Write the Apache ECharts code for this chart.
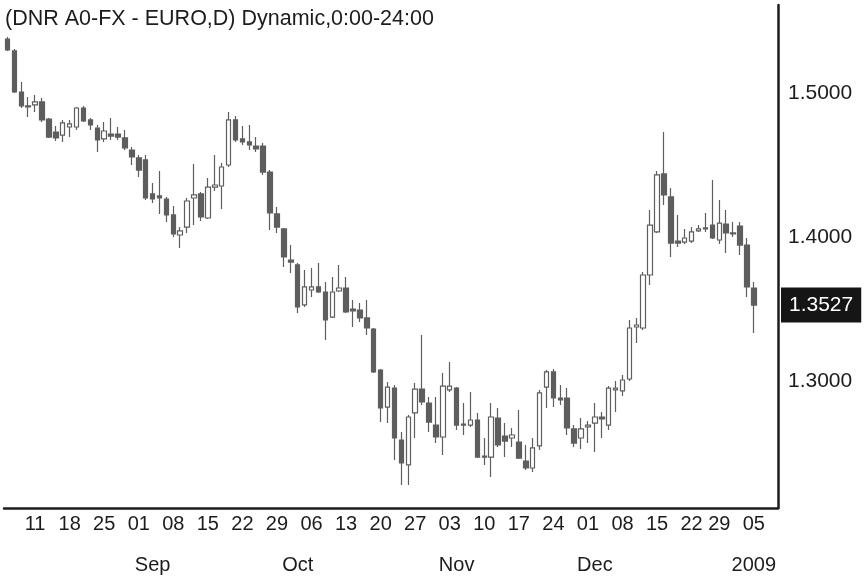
<!DOCTYPE html>
<html>
<head>
<meta charset="utf-8">
<title>DNR A0-FX - EURO, D</title>
<script src="https://cdn.jsdelivr.net/npm/echarts@6/dist/echarts.min.js"></script>
<style>
  html, body { margin: 0; padding: 0; background: #fff; }
  #chart { width: 867px; height: 580px; }
</style>
</head>
<body>
<div id="chart"></div>
<script>
// trading days shown on the chart (Dec 25 has no bar)
var tradingDays = [
  '2008-08-05', '2008-08-06', '2008-08-07', '2008-08-08',
  '2008-08-11', '2008-08-12', '2008-08-13', '2008-08-14', '2008-08-15',
  '2008-08-18', '2008-08-19', '2008-08-20', '2008-08-21', '2008-08-22',
  '2008-08-25', '2008-08-26', '2008-08-27', '2008-08-28', '2008-08-29',
  '2008-09-01', '2008-09-02', '2008-09-03', '2008-09-04', '2008-09-05',
  '2008-09-08', '2008-09-09', '2008-09-10', '2008-09-11', '2008-09-12',
  '2008-09-15', '2008-09-16', '2008-09-17', '2008-09-18', '2008-09-19',
  '2008-09-22', '2008-09-23', '2008-09-24', '2008-09-25', '2008-09-26',
  '2008-09-29', '2008-09-30', '2008-10-01', '2008-10-02', '2008-10-03',
  '2008-10-06', '2008-10-07', '2008-10-08', '2008-10-09', '2008-10-10',
  '2008-10-13', '2008-10-14', '2008-10-15', '2008-10-16', '2008-10-17',
  '2008-10-20', '2008-10-21', '2008-10-22', '2008-10-23', '2008-10-24',
  '2008-10-27', '2008-10-28', '2008-10-29', '2008-10-30', '2008-10-31',
  '2008-11-03', '2008-11-04', '2008-11-05', '2008-11-06', '2008-11-07',
  '2008-11-10', '2008-11-11', '2008-11-12', '2008-11-13', '2008-11-14',
  '2008-11-17', '2008-11-18', '2008-11-19', '2008-11-20', '2008-11-21',
  '2008-11-24', '2008-11-25', '2008-11-26', '2008-11-27', '2008-11-28',
  '2008-12-01', '2008-12-02', '2008-12-03', '2008-12-04', '2008-12-05',
  '2008-12-08', '2008-12-09', '2008-12-10', '2008-12-11', '2008-12-12',
  '2008-12-15', '2008-12-16', '2008-12-17', '2008-12-18', '2008-12-19',
  '2008-12-22', '2008-12-23', '2008-12-24', '2008-12-26',
  '2008-12-29', '2008-12-30', '2008-12-31', '2009-01-01', '2009-01-02',
  '2009-01-05'
];
// empty slots to the right of the last bar
var emptyDays = ['2009-01-06', '2009-01-07', '2009-01-08'];

var openPrices = [
  1.5375, 1.5292, 1.5007, 1.4910, 1.4917, 1.4938, 1.4819, 1.4729, 1.4708, 1.4764,
  1.4764, 1.4896, 1.4813, 1.4757, 1.4681, 1.4715, 1.4715, 1.4688, 1.4604, 1.4549,
  1.4535, 1.4299, 1.4285, 1.4264, 1.4153, 1.4014, 1.4069, 1.4271, 1.4299, 1.4132,
  1.4347, 1.4354, 1.4500, 1.4813, 1.4681, 1.4660, 1.4632, 1.4632, 1.4451, 1.4160,
  1.4056, 1.3840, 1.3806, 1.3528, 1.3632, 1.3653, 1.3618, 1.3444, 1.3625, 1.3646,
  1.3500, 1.3493, 1.3438, 1.3361, 1.3076, 1.2819, 1.2951, 1.2590, 1.2417, 1.2778,
  1.2944, 1.2847, 1.2694, 1.2611, 1.2938, 1.2951, 1.2701, 1.2694, 1.2729, 1.2479,
  1.2472, 1.2743, 1.2618, 1.2604, 1.2576, 1.2444, 1.2396, 1.2549, 1.2958, 1.3063,
  1.2882, 1.2882, 1.2667, 1.2604, 1.2681, 1.2708, 1.2750, 1.2694, 1.2938, 1.2931,
  1.3014, 1.3375, 1.3368, 1.3736, 1.4035, 1.4438, 1.4278, 1.3972, 1.3965, 1.3972,
  1.4042, 1.4056, 1.4083, 1.3979, 1.4090, 1.4028, 1.4076, 1.3944, 1.3646
];
var highPrices = [
  1.5389, 1.5306, 1.5076, 1.4972, 1.4986, 1.4965, 1.4826, 1.4771, 1.4813, 1.4813,
  1.4903, 1.4910, 1.4826, 1.4778, 1.4799, 1.4826, 1.4764, 1.4743, 1.4625, 1.4569,
  1.4569, 1.4375, 1.4458, 1.4278, 1.4215, 1.4069, 1.4271, 1.4507, 1.4313, 1.4410,
  1.4569, 1.4514, 1.4868, 1.4840, 1.4771, 1.4778, 1.4694, 1.4653, 1.4465, 1.4208,
  1.4063, 1.3944, 1.3819, 1.3771, 1.3785, 1.3819, 1.3688, 1.3722, 1.3806, 1.3722,
  1.3563, 1.3542, 1.3563, 1.3368, 1.3083, 1.2993, 1.2972, 1.2646, 1.2764, 1.2986,
  1.3319, 1.2889, 1.2889, 1.3056, 1.3132, 1.2958, 1.2847, 1.2924, 1.2778, 1.2604,
  1.2847, 1.2813, 1.2708, 1.2674, 1.2799, 1.2556, 1.2604, 1.2938, 1.3076, 1.3083,
  1.2972, 1.2951, 1.2694, 1.2743, 1.2722, 1.2847, 1.2785, 1.2965, 1.3000, 1.3042,
  1.3424, 1.3438, 1.3757, 1.4188, 1.4458, 1.4729, 1.4340, 1.4153, 1.4056, 1.4069,
  1.4083, 1.4167, 1.4396, 1.4257, 1.4188, 1.4104, 1.4104, 1.3993, 1.3688
];
var lowPrices = [
  1.5292, 1.5000, 1.4896, 1.4833, 1.4868, 1.4799, 1.4688, 1.4667, 1.4660, 1.4694,
  1.4743, 1.4799, 1.4743, 1.4590, 1.4660, 1.4674, 1.4674, 1.4604, 1.4500, 1.4417,
  1.4257, 1.4236, 1.4160, 1.4104, 1.4000, 1.3924, 1.4028, 1.4083, 1.4111, 1.4125,
  1.4319, 1.4194, 1.4486, 1.4660, 1.4639, 1.4604, 1.4590, 1.4431, 1.4049, 1.4028,
  1.3792, 1.3750, 1.3472, 1.3514, 1.3583, 1.3611, 1.3285, 1.3438, 1.3618, 1.3472,
  1.3375, 1.3410, 1.3319, 1.3056, 1.2715, 1.2708, 1.2451, 1.2278, 1.2278, 1.2604,
  1.2833, 1.2646, 1.2569, 1.2486, 1.2924, 1.2660, 1.2625, 1.2681, 1.2465, 1.2417,
  1.2333, 1.2542, 1.2472, 1.2542, 1.2458, 1.2382, 1.2368, 1.2521, 1.2813, 1.2819,
  1.2833, 1.2625, 1.2542, 1.2528, 1.2569, 1.2507, 1.2604, 1.2660, 1.2785, 1.2896,
  1.3000, 1.3264, 1.3354, 1.3667, 1.4028, 1.4222, 1.3861, 1.3931, 1.3951, 1.3958,
  1.4035, 1.4035, 1.3986, 1.3951, 1.3889, 1.4000, 1.3875, 1.3583, 1.3333
];
var closePrices = [
  1.5299, 1.5007, 1.4910, 1.4903, 1.4938, 1.4813, 1.4694, 1.4688, 1.4792, 1.4785,
  1.4896, 1.4806, 1.4778, 1.4674, 1.4736, 1.4701, 1.4694, 1.4618, 1.4556, 1.4465,
  1.4271, 1.4264, 1.4271, 1.4153, 1.4021, 1.4042, 1.4250, 1.4292, 1.4139, 1.4347,
  1.4361, 1.4486, 1.4813, 1.4674, 1.4660, 1.4639, 1.4611, 1.4451, 1.4167, 1.4069,
  1.3861, 1.3826, 1.3514, 1.3653, 1.3653, 1.3618, 1.3424, 1.3618, 1.3646, 1.3479,
  1.3486, 1.3438, 1.3368, 1.3063, 1.2813, 1.2958, 1.2604, 1.2431, 1.2750, 1.2944,
  1.2854, 1.2715, 1.2611, 1.2965, 1.2965, 1.2694, 1.2694, 1.2729, 1.2472, 1.2472,
  1.2750, 1.2556, 1.2583, 1.2625, 1.2465, 1.2396, 1.2535, 1.2917, 1.3063, 1.2882,
  1.2868, 1.2674, 1.2569, 1.2667, 1.2694, 1.2750, 1.2736, 1.2951, 1.2951, 1.3007,
  1.3368, 1.3389, 1.3736, 1.4083, 1.4431, 1.4292, 1.3958, 1.3958, 1.3993, 1.4035,
  1.4056, 1.4063, 1.3993, 1.4097, 1.4028, 1.4021, 1.3944, 1.3653, 1.3527
];

// weekly tick labels (Mondays)
var weekTickDays = [
  '2008-08-11', '2008-08-18', '2008-08-25', '2008-09-01', '2008-09-08', '2008-09-15',
  '2008-09-22', '2008-09-29', '2008-10-06', '2008-10-13', '2008-10-20', '2008-10-27',
  '2008-11-03', '2008-11-10', '2008-11-17', '2008-11-24', '2008-12-01', '2008-12-08',
  '2008-12-15', '2008-12-22', '2008-12-29', '2009-01-05'
];
var weekTickLabels = [
  '11', '18', '25', '01', '08', '15', '22', '29', '06', '13', '20',
  '27', '03', '10', '17', '24', '01', '08', '15', '22', '29', '05'
];
var monthTickDays = ['2008-09-03', '2008-10-02', '2008-11-04', '2008-12-02', '2009-01-05'];
var monthTickLabels = ['Sep', 'Oct', 'Nov', 'Dec', '2009'];

var priceTicks = [1.3, 1.4, 1.5];

var categories = tradingDays.concat(emptyDays);
var candles = categories.map(function (d, i) {
  if (i >= closePrices.length) return '-';
  return [openPrices[i], closePrices[i], lowPrices[i], highPrices[i]];
});
var lastPrice = closePrices[closePrices.length - 1];

var FONT = 'Liberation Sans, Arial, Helvetica, sans-serif';
var INK = '#1c1c1c';
var CANDLE = '#5e5e5e';

function pick(days, labels) {
  return function (value) {
    var k = days.indexOf(value);
    return k < 0 ? '' : labels[k];
  };
}

var chart = echarts.init(document.getElementById('chart'), null, { renderer: 'canvas' });

chart.setOption({
  animation: false,
  backgroundColor: '#fff',
  textStyle: { fontFamily: FONT },
  title: {
    text: '(DNR A0-FX - EURO,D) Dynamic,0:00-24:00',
    left: 5,
    top: 8,
    padding: 0,
    textStyle: { fontSize: 21.5, fontWeight: 'normal', color: INK, fontFamily: FONT }
  },
  grid: { left: 4, right: 89, top: 5, bottom: 72 },
  xAxis: [
    {
      type: 'category',
      data: categories,
      axisLine: { lineStyle: { color: INK, width: 2.5 } },
      axisTick: { show: false },
      splitLine: { show: false },
      axisLabel: {
        interval: function (index, value) { return weekTickDays.indexOf(value) >= 0; },
        formatter: pick(weekTickDays, weekTickLabels),
        margin: 6,
        fontSize: 20,
        color: INK,
        fontFamily: FONT
      }
    },
    {
      type: 'category',
      data: categories,
      position: 'bottom',
      offset: 41,
      axisLine: { show: false },
      axisTick: { show: false },
      splitLine: { show: false },
      axisLabel: {
        interval: function (index, value) { return monthTickDays.indexOf(value) >= 0; },
        formatter: pick(monthTickDays, monthTickLabels),
        margin: 6,
        fontSize: 20,
        color: INK,
        fontFamily: FONT
      }
    }
  ],
  yAxis: {
    type: 'value',
    position: 'right',
    min: 1.211806,
    max: 1.561111,
    axisLine: { show: true, lineStyle: { color: INK, width: 2.5 } },
    axisTick: { show: false },
    splitLine: { show: false },
    axisLabel: {
      customValues: priceTicks,
      formatter: function (v) { return v.toFixed(4); },
      margin: 10,
      fontSize: 21,
      color: INK,
      fontFamily: FONT
    }
  },
  series: [
    {
      type: 'candlestick',
      xAxisIndex: 0,
      yAxisIndex: 0,
      data: candles,
      barWidth: 5,
      itemStyle: {
        color: '#ffffff',
        color0: CANDLE,
        borderColor: CANDLE,
        borderColor0: CANDLE,
        borderWidth: 1.2
      },
      markLine: {
        silent: true,
        precision: 4,
        symbol: ['none', 'none'],
        lineStyle: { color: 'rgba(0,0,0,0)', type: 'solid', width: 1 },
        data: [{ yAxis: lastPrice }],
        label: {
          show: true,
          position: 'end',
          distance: 3,
          formatter: function (p) { return Number(p.value).toFixed(4); },
          backgroundColor: '#151515',
          color: '#ffffff',
          fontSize: 21,
          fontFamily: FONT,
          padding: [7, 8, 7, 8]
        }
      }
    }
  ]
});
</script>
</body>
</html>
